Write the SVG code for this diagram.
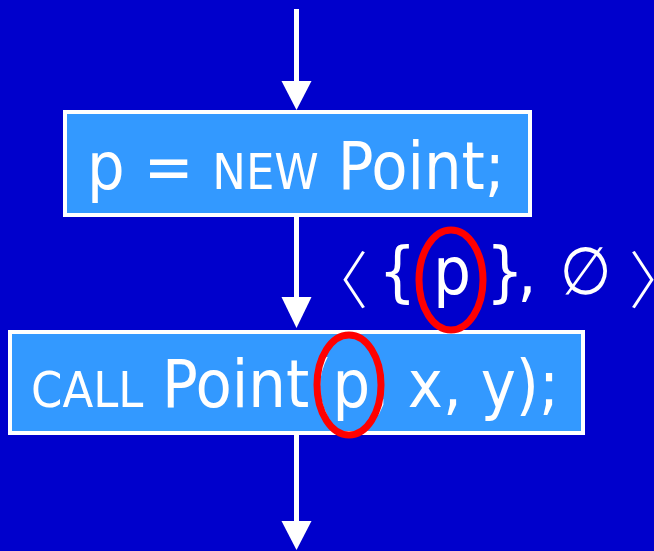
<svg xmlns="http://www.w3.org/2000/svg" width="654" height="551" viewBox="0 0 654 551">
<defs>
<style>
.box{fill:#3399FF;stroke:#FFFFFF;stroke-width:4}
.t{font-family:"DejaVu Sans Condensed","DejaVu Sans",sans-serif;font-size:66px;fill:#FFFFFF;text-anchor:middle}
.sc{font-size:50px}
.br{font-family:"Noto Sans CJK SC",sans-serif;font-weight:300;font-size:62px}
.line{stroke:#FFFFFF;stroke-width:5;fill:none}
.head{fill:#FFFFFF}
.mark{fill:none;stroke:#FF0000;stroke-width:7}
</style>
</defs>
<rect x="0" y="0" width="654" height="551" fill="#0000CC"/>
<g id="connectors">
<line class="line" x1="296.5" y1="9" x2="296.5" y2="84"/>
<polygon class="head" points="281.5,81 311.5,81 296.5,110"/>
<line class="line" x1="296.5" y1="217" x2="296.5" y2="300"/>
<polygon class="head" points="281.5,297 311.5,297 296.5,328"/>
<line class="line" x1="296.5" y1="435" x2="296.5" y2="524"/>
<polygon class="head" points="281.5,521 311.5,521 296.5,550"/>
</g>
<g id="node-new">
<rect class="box" x="65" y="112" width="465" height="103"/>
<text class="t" x="296" y="189">p = <tspan class="sc">NEW</tspan> Point;</text>
</g>
<g id="node-call">
<rect class="box" x="10" y="332" width="573" height="101"/>
<text class="t" x="295" y="407"><tspan class="sc">CALL</tspan> Point(p, x, y);</text>
</g>
<g id="label-set">
<text class="t br" x="337" y="304">〈</text>
<text class="t" x="397.5" y="294">{</text>
<text class="t" x="452" y="294">p</text>
<text class="t" x="505" y="294">}</text>
<text class="t" x="527" y="294">,</text>
<text class="t" x="585.5" y="294">∅</text>
<text class="t br" x="660" y="304">〉</text>
</g>
<g id="marks">
<ellipse class="mark" cx="451" cy="280" rx="32" ry="50"/>
<ellipse class="mark" cx="349" cy="385" rx="32" ry="50"/>
</g>
</svg>
